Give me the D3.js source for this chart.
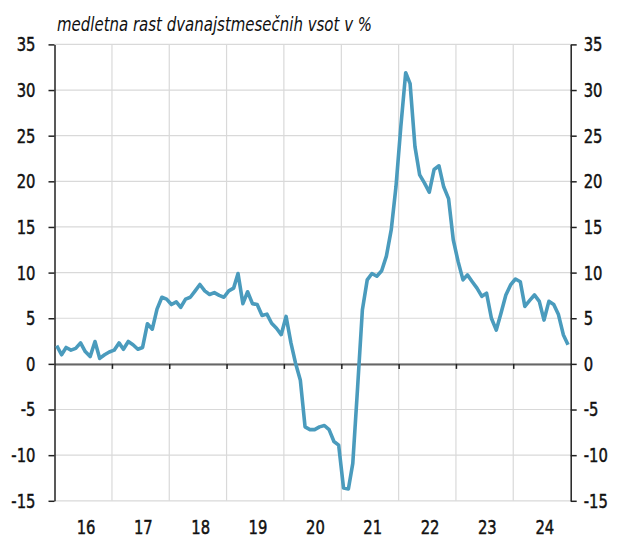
<!DOCTYPE html>
<html>
<head>
<meta charset="utf-8">
<script src="https://cdn.jsdelivr.net/npm/d3@7"></script>
<style>
  body { margin: 0; background: #fff; }
  text { font-family: "DejaVu Sans", sans-serif; }
</style>
</head>
<body>
<div id="chart"></div>
<script>
// years shown on the x axis
var years = [2016, 2017, 2018, 2019, 2020, 2021, 2022, 2023, 2024];
var yearLabels = ["16", "17", "18", "19", "20", "21", "22", "23", "24"];
var yTicks = [-15, -10, -5, 0, 5, 10, 15, 20, 25, 30, 35];

// monthly values, Jan 2016 - Dec 2024
var v2016 = [2.0, 1.0, 1.8, 1.5, 1.7, 2.3, 1.35, 0.8, 2.45, 0.6, 1.0, 1.3];
var v2017 = [1.5, 2.3, 1.6, 2.45, 2.1, 1.6, 1.8, 4.4, 3.8, 6.0, 7.3, 7.1];
var v2018 = [6.5, 6.8, 6.2, 7.1, 7.3, 8.0, 8.7, 8.0, 7.6, 7.8, 7.5, 7.3];
var v2019 = [8.0, 8.3, 9.9, 6.6, 7.9, 6.6, 6.5, 5.3, 5.45, 4.45, 3.9, 3.2];
var v2020 = [5.2, 2.3, 0.1, -1.8, -6.9, -7.2, -7.2, -6.9, -6.75, -7.2, -8.5, -8.9];
var v2021 = [-13.6, -13.7, -10.9, -2.5, 5.9, 9.2, 9.9, 9.6, 10.2, 11.8, 14.7, 19.4];
var v2022 = [26.0, 31.9, 30.7, 23.8, 20.7, 19.8, 18.8, 21.3, 21.7, 19.4, 18.1, 13.6];
var v2023 = [11.2, 9.2, 9.75, 9.0, 8.3, 7.4, 7.75, 5.0, 3.7, 5.55, 7.55, 8.65];
var v2024 = [9.3, 9.0, 6.3, 6.95, 7.55, 6.85, 4.8, 6.85, 6.5, 5.4, 3.2, 2.1];

var allValues = [v2016, v2017, v2018, v2019, v2020, v2021, v2022, v2023, v2024];
var data = [];
allValues.forEach(function(arr, yi) {
    arr.forEach(function(v, m) {
        data.push({date: new Date(years[yi], m, 15), value: v});
    });
});

var width = 618, height = 539;
var pLeft = 54.5, pRight = 570.7, pTop = 44.4, pBottom = 500.8;
var squeeze = 0.74; // no condensed font around, so squash the glyphs

var svg = d3.select("#chart").append("svg")
    .attr("width", width)
    .attr("height", height);

var x = d3.scaleTime()
    .domain([new Date(2016, 0, 1), new Date(2025, 0, 1)])
    .range([pLeft, pRight]);
var y = d3.scaleLinear()
    .domain([-15, 35])
    .range([pBottom, pTop]);

// grid
var bounds = years.slice(1).map(function(yr) { return new Date(yr, 0, 1); });
svg.append("g").selectAll("line")
    .data(bounds)
    .enter().append("line")
    .attr("x1", function(d) { return x(d); })
    .attr("x2", function(d) { return x(d); })
    .attr("y1", pTop).attr("y2", pBottom)
    .attr("stroke", "#d9d9d9").attr("stroke-width", 1.2);
svg.append("g").selectAll("line")
    .data(yTicks)
    .enter().append("line")
    .attr("x1", pLeft).attr("x2", pRight)
    .attr("y1", function(d) { return y(d); })
    .attr("y2", function(d) { return y(d); })
    .attr("stroke", "#d9d9d9").attr("stroke-width", 1.2);

// zero line with year ticks
var zero = svg.append("g")
    .attr("transform", "translate(0," + y(0) + ")")
    .call(d3.axisBottom(x).tickValues(bounds).tickSize(5).tickSizeOuter(0).tickFormat(""));
zero.select(".domain").attr("stroke", "#666").attr("stroke-width", 2);
zero.selectAll(".tick line").attr("stroke", "#222").attr("stroke-width", 1.5);

// left and right axes
var fmt = function(d) { return String(d); };
var yl = svg.append("g")
    .attr("transform", "translate(" + pLeft + ",0)")
    .call(d3.axisLeft(y).tickValues(yTicks).tickFormat(fmt).tickSize(6).tickSizeOuter(0).tickPadding(13));
var yr = svg.append("g")
    .attr("transform", "translate(" + pRight + ",0)")
    .call(d3.axisRight(y).tickValues(yTicks).tickFormat(fmt).tickSize(6).tickSizeOuter(0).tickPadding(7));
[yl, yr].forEach(function(g) {
    g.select(".domain").attr("stroke", "#222").attr("stroke-width", 1.5);
    g.selectAll(".tick line").attr("stroke", "#222").attr("stroke-width", 1.5);
    g.selectAll(".tick text")
        .attr("fill", "#111")
        .attr("stroke", "#111")
        .attr("stroke-width", 0.5)
        .attr("font-family", null)
        .attr("font-size", null)
        .style("font-size", "20px")
        .attr("x", function() { return +d3.select(this).attr("x") / squeeze; })
        .attr("transform", "scale(" + squeeze + ",1)");
});

// year labels
svg.append("g").selectAll("text")
    .data(years)
    .enter().append("text")
    .attr("transform", function(d) {
        return "translate(" + (x(new Date(d, 6, 1)) + 3) + ",534) scale(" + squeeze + ",1)";
    })
    .attr("text-anchor", "middle")
    .attr("fill", "#111")
    .attr("stroke", "#111")
    .attr("stroke-width", 0.5)
    .style("font-size", "20px")
    .text(function(d, i) { return yearLabels[i]; });

// series
var line = d3.line()
    .x(function(d) { return x(d.date); })
    .y(function(d) { return y(d.value); });
svg.append("path")
    .datum(data)
    .attr("fill", "none")
    .attr("stroke", "#4a9bbd")
    .attr("stroke-width", 3.6)
    .attr("stroke-linejoin", "round")
    .attr("d", line);

// title
svg.append("text")
    .attr("x", 57)
    .attr("y", 31)
    .attr("fill", "#111")
    .attr("textLength", 315)
    .attr("lengthAdjust", "spacingAndGlyphs")
    .style("font-size", "19px")
    .style("font-style", "italic")
    .text("medletna rast dvanajstmesečnih vsot v %");
</script>
</body>
</html>
